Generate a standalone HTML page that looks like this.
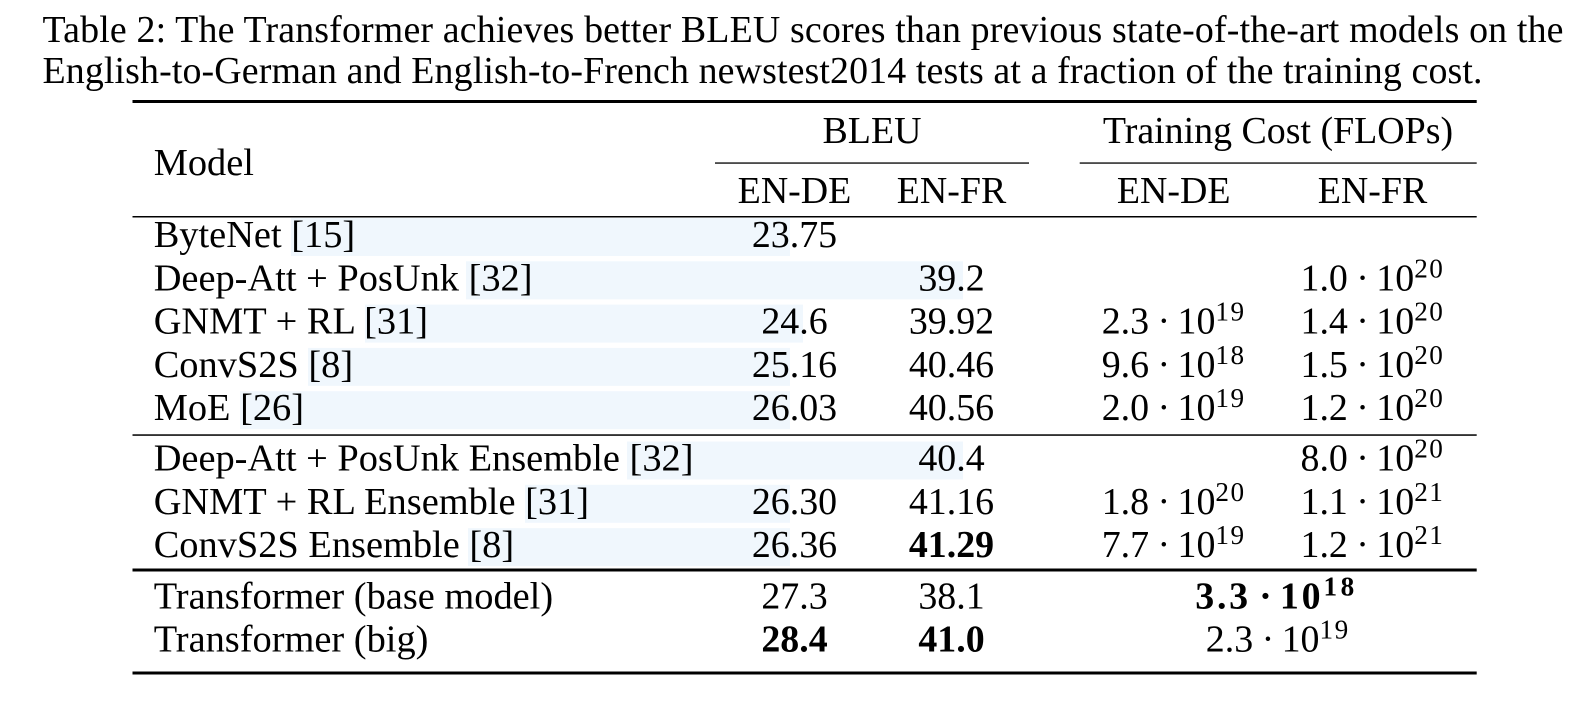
<!DOCTYPE html>
<html>
<head>
<meta charset="utf-8">
<style>
  html, body { margin: 0; padding: 0; background: #ffffff; }
  body { width: 1586px; height: 722px; overflow: hidden; }
  svg { display: block; }
  text { font-family: "Liberation Serif", "Times New Roman", serif; }
</style>
</head>
<body>
<svg width="1586" height="722" viewBox="0 0 1586 722" xmlns="http://www.w3.org/2000/svg" font-size="37.9" fill="#000">
  <rect x="0" y="0" width="1586" height="722" fill="#ffffff"/>

  <!-- selection highlights -->
  <g fill="#f0f7fd">
    <rect x="291" y="218" width="499" height="38"/>
    <rect x="466" y="261.3" width="497" height="38"/>
    <rect x="365" y="304.6" width="438" height="38"/>
    <rect x="308" y="347.9" width="482" height="38"/>
    <rect x="240" y="391.2" width="550" height="38"/>
    <rect x="627" y="441.5" width="336" height="38"/>
    <rect x="525" y="484.8" width="265" height="38"/>
    <rect x="468" y="528.1" width="322" height="38"/>
  </g>

  <!-- caption -->
  <text x="42.5" y="42" textLength="1521" lengthAdjust="spacing">Table 2: The Transformer achieves better BLEU scores than previous state-of-the-art models on the</text>
  <text x="42.5" y="83" textLength="1440" lengthAdjust="spacing">English-to-German and English-to-French newstest2014 tests at a fraction of the training cost.</text>

  <!-- rules -->
  <rect x="132.5" y="100" width="1344.2" height="3" fill="#000"/>
  <rect x="715" y="162.4" width="314" height="1.3" fill="#000"/>
  <rect x="1079.7" y="162.4" width="397" height="1.3" fill="#000"/>
  <rect x="132.5" y="216" width="1344.2" height="1.5" fill="#000"/>
  <rect x="132.5" y="434.3" width="1344.2" height="1.5" fill="#000"/>
  <rect x="132.5" y="568.5" width="1344.2" height="3" fill="#000"/>
  <rect x="132.5" y="671.5" width="1344.2" height="3" fill="#000"/>

  <!-- model column -->
  <g font-size="38.4">
    <text x="153.7" y="175">Model</text>
    <text x="153.7" y="247">ByteNet [15]</text>
    <text x="153.7" y="290.3">Deep-Att + PosUnk [32]</text>
    <text x="153.7" y="333.6">GNMT + RL [31]</text>
    <text x="153.7" y="376.9">ConvS2S [8]</text>
    <text x="153.7" y="420.2">MoE [26]</text>
    <text x="153.7" y="470.5">Deep-Att + PosUnk Ensemble [32]</text>
    <text x="153.7" y="513.8">GNMT + RL Ensemble [31]</text>
    <text x="153.7" y="557.1">ConvS2S Ensemble [8]</text>
    <text x="153.7" y="608.3">Transformer (base model)</text>
    <text x="153.7" y="651.6">Transformer (big)</text>
  </g>

  <!-- header -->
  <text x="872" y="143" text-anchor="middle">BLEU</text>
  <text x="1278" y="143" text-anchor="middle">Training Cost (FLOPs)</text>
  <text x="794.5" y="203" text-anchor="middle">EN-DE</text>
  <text x="951.5" y="203" text-anchor="middle">EN-FR</text>
  <text x="1173.7" y="203" text-anchor="middle">EN-DE</text>
  <text x="1372.5" y="203" text-anchor="middle">EN-FR</text>

  <!-- row 1 -->
  <text x="794.5" y="247" text-anchor="middle">23.75</text>

  <!-- row 2 -->
  <text x="951.5" y="290.3" text-anchor="middle">39.2</text>
  <text x="1300.5" y="290.3">1.0</text><text x="1362.6" y="290.3" text-anchor="middle">·</text><text x="1376.3" y="290.3">10</text><text x="1414.2" y="277.3" font-size="27.2" letter-spacing="1.5">20</text>

  <!-- row 3 -->
  <text x="794.5" y="333.6" text-anchor="middle">24.6</text>
  <text x="951.5" y="333.6" text-anchor="middle">39.92</text>
  <text x="1101.7" y="333.6">2.3</text><text x="1163.8" y="333.6" text-anchor="middle">·</text><text x="1177.5" y="333.6">10</text><text x="1215.4" y="320.6" font-size="27.2" letter-spacing="1.5">19</text>
  <text x="1300.5" y="333.6">1.4</text><text x="1362.6" y="333.6" text-anchor="middle">·</text><text x="1376.3" y="333.6">10</text><text x="1414.2" y="320.6" font-size="27.2" letter-spacing="1.5">20</text>

  <!-- row 4 -->
  <text x="794.5" y="376.9" text-anchor="middle">25.16</text>
  <text x="951.5" y="376.9" text-anchor="middle">40.46</text>
  <text x="1101.7" y="376.9">9.6</text><text x="1163.8" y="376.9" text-anchor="middle">·</text><text x="1177.5" y="376.9">10</text><text x="1215.4" y="363.9" font-size="27.2" letter-spacing="1.5">18</text>
  <text x="1300.5" y="376.9">1.5</text><text x="1362.6" y="376.9" text-anchor="middle">·</text><text x="1376.3" y="376.9">10</text><text x="1414.2" y="363.9" font-size="27.2" letter-spacing="1.5">20</text>

  <!-- row 5 -->
  <text x="794.5" y="420.2" text-anchor="middle">26.03</text>
  <text x="951.5" y="420.2" text-anchor="middle">40.56</text>
  <text x="1101.7" y="420.2">2.0</text><text x="1163.8" y="420.2" text-anchor="middle">·</text><text x="1177.5" y="420.2">10</text><text x="1215.4" y="407.2" font-size="27.2" letter-spacing="1.5">19</text>
  <text x="1300.5" y="420.2">1.2</text><text x="1362.6" y="420.2" text-anchor="middle">·</text><text x="1376.3" y="420.2">10</text><text x="1414.2" y="407.2" font-size="27.2" letter-spacing="1.5">20</text>

  <!-- row 6 -->
  <text x="951.5" y="470.5" text-anchor="middle">40.4</text>
  <text x="1300.5" y="470.5">8.0</text><text x="1362.6" y="470.5" text-anchor="middle">·</text><text x="1376.3" y="470.5">10</text><text x="1414.2" y="457.5" font-size="27.2" letter-spacing="1.5">20</text>

  <!-- row 7 -->
  <text x="794.5" y="513.8" text-anchor="middle">26.30</text>
  <text x="951.5" y="513.8" text-anchor="middle">41.16</text>
  <text x="1101.7" y="513.8">1.8</text><text x="1163.8" y="513.8" text-anchor="middle">·</text><text x="1177.5" y="513.8">10</text><text x="1215.4" y="500.8" font-size="27.2" letter-spacing="1.5">20</text>
  <text x="1300.5" y="513.8">1.1</text><text x="1362.6" y="513.8" text-anchor="middle">·</text><text x="1376.3" y="513.8">10</text><text x="1414.2" y="500.8" font-size="27.2" letter-spacing="1.5">21</text>

  <!-- row 8 -->
  <text x="794.5" y="557.1" text-anchor="middle">26.36</text>
  <text x="951.5" y="557.1" text-anchor="middle" font-weight="bold">41.29</text>
  <text x="1101.7" y="557.1">7.7</text><text x="1163.8" y="557.1" text-anchor="middle">·</text><text x="1177.5" y="557.1">10</text><text x="1215.4" y="544.1" font-size="27.2" letter-spacing="1.5">19</text>
  <text x="1300.5" y="557.1">1.2</text><text x="1362.6" y="557.1" text-anchor="middle">·</text><text x="1376.3" y="557.1">10</text><text x="1414.2" y="544.1" font-size="27.2" letter-spacing="1.5">21</text>

  <!-- row 9 -->
  <text x="794.5" y="608.3" text-anchor="middle">27.3</text>
  <text x="951.5" y="608.3" text-anchor="middle">38.1</text>
  <g font-weight="bold">
    <text x="1195.3" y="608.3" letter-spacing="2.7">3.3</text>
    <text x="1265.5" y="608.3" text-anchor="middle">·</text>
    <text x="1279.9" y="608.3" letter-spacing="2.8">10</text>
    <text x="1323.5" y="595.3" font-size="27.2" letter-spacing="3.5">18</text>
  </g>

  <!-- row 10 -->
  <text x="794.5" y="651.6" text-anchor="middle" font-weight="bold">28.4</text>
  <text x="951.5" y="651.6" text-anchor="middle" font-weight="bold">41.0</text>
  <text x="1205.8" y="651.6">2.3</text><text x="1267.9" y="651.6" text-anchor="middle">·</text><text x="1281.6" y="651.6">10</text><text x="1319.5" y="638.6" font-size="27.2" letter-spacing="1.5">19</text>
</svg>
</body>
</html>
